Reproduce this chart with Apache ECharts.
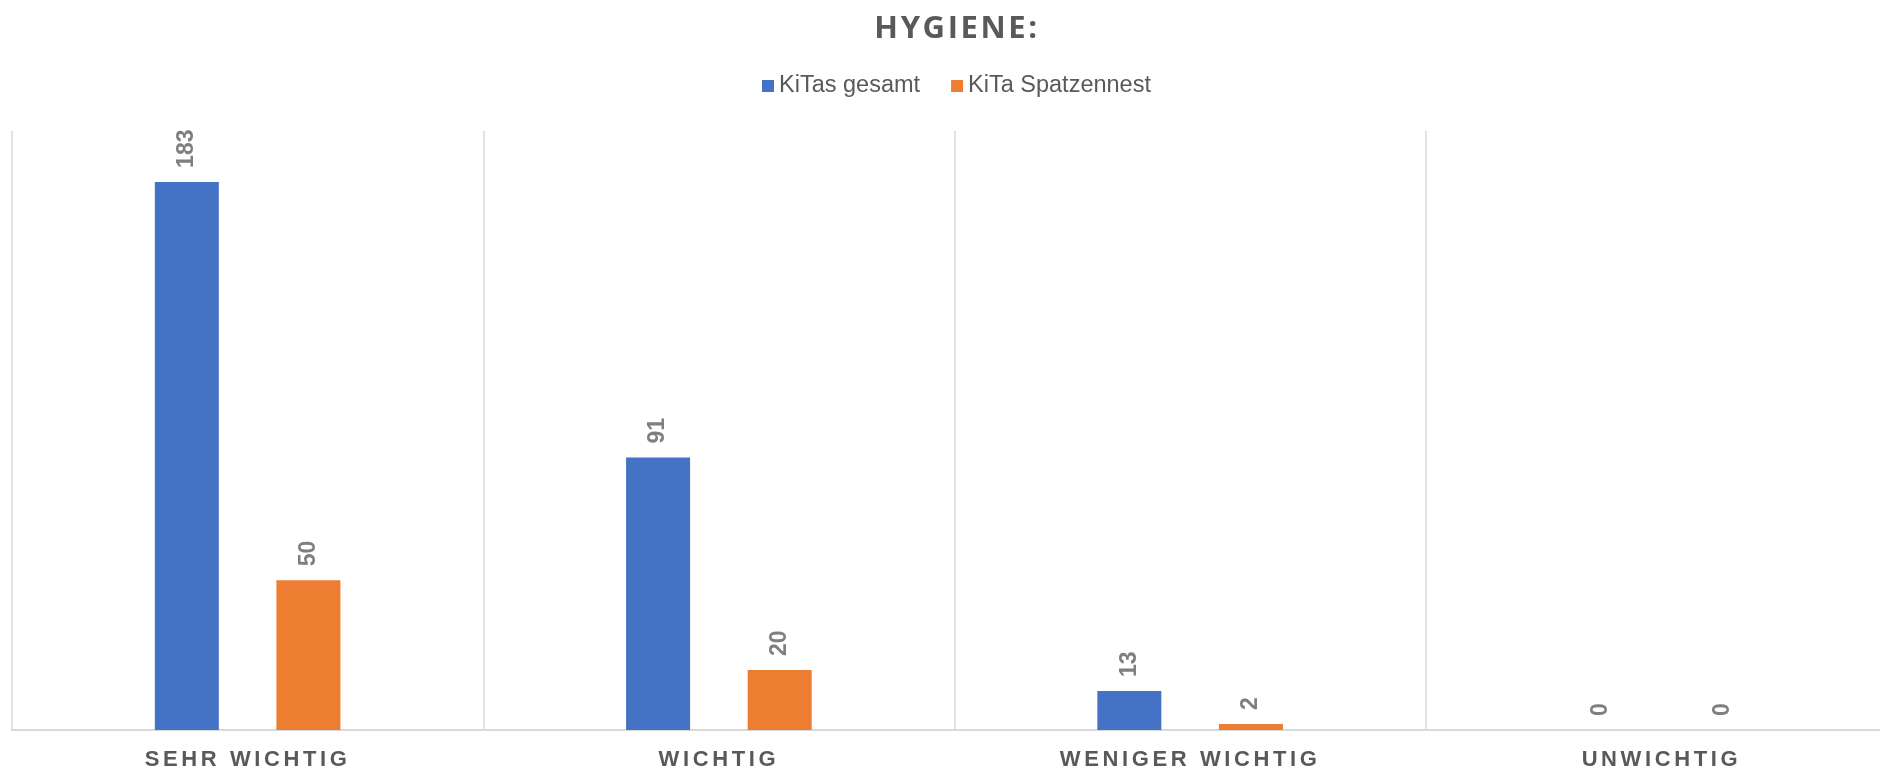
<!DOCTYPE html>
<html>
<head>
<meta charset="utf-8">
<script src="https://cdn.jsdelivr.net/npm/echarts@6/dist/echarts.min.js"></script>
<style>
html,body{margin:0;padding:0;background:#fff;}
#chart{width:1880px;height:769px;}
</style>
</head>
<body>
<div id="chart"></div>
<script>
const titleText = 'HYGIENE:';
const categories = ['SEHR WICHTIG', 'WICHTIG', 'WENIGER WICHTIG', 'UNWICHTIG'];
const seriesNames = ['KiTas gesamt', 'KiTa Spatzennest'];
const kitasGesamt = [183, 91, 13, 0];
const kitaSpatzennest = [50, 20, 2, 0];

// letter spacing for title and category labels (canvas 2D letterSpacing)
const spacingMap = {};
spacingMap[titleText] = '2.6px';
categories.forEach(c => spacingMap[c] = '3.6px');
const origFill = CanvasRenderingContext2D.prototype.fillText;
CanvasRenderingContext2D.prototype.fillText = function (t, x, y, w) {
  const ls = spacingMap[t] || '0px';
  if ('letterSpacing' in this) this.letterSpacing = ls;
  if (w === undefined) origFill.call(this, t, x, y); else origFill.call(this, t, x, y, w);
  if ('letterSpacing' in this) this.letterSpacing = '0px';
};

const chart = echarts.init(document.getElementById('chart'), null, {renderer: 'canvas'});
const labelStyle = {
  show: true,
  position: 'top',
  distance: 14,
  rotate: 90,
  align: 'left',
  verticalAlign: 'middle',
  color: '#7f7f7f',
  fontFamily: 'Liberation Sans, Arial, sans-serif',
  fontWeight: 'bold',
  fontSize: 23
};
chart.setOption({
  animation: false,
  title: {
    text: titleText,
    left: 952,
    textAlign: 'center',
    top: 9,
    textStyle: {
      fontFamily: 'Open Sans, sans-serif',
      fontWeight: 'bold',
      fontSize: 31,
      color: '#595959'
    }
  },
  legend: {
    data: seriesNames,
    left: 762,
    top: 74,
    padding: 0,
    itemWidth: 12,
    itemHeight: 12,
    itemGap: 31,
    icon: 'rect',
    textStyle: {
      fontFamily: 'Liberation Sans, Arial, sans-serif',
      fontSize: 23.5,
      color: '#595959'
    }
  },
  grid: {left: 12, top: 131, width: 1885, height: 599, containLabel: false, outerBoundsMode: 'none'},
  xAxis: {
    type: 'category',
    data: categories,
    axisLine: {show: true, lineStyle: {color: '#d9d9d9', width: 2}},
    axisTick: {show: false},
    splitLine: {show: true, lineStyle: {color: '#d9d9d9', width: 1.5}},
    axisLabel: {
      margin: 19,
      color: '#595959',
      fontFamily: 'Liberation Sans, Arial, sans-serif',
      fontWeight: 'bold',
      fontSize: 22
    }
  },
  yAxis: {
    type: 'value',
    min: 0,
    max: 200,
    show: false,
    splitLine: {show: false}
  },
  series: [
    {
      name: seriesNames[0],
      type: 'bar',
      data: kitasGesamt,
      barWidth: 64,
      barGap: '90%',
      itemStyle: {color: '#4472C4'},
      label: labelStyle
    },
    {
      name: seriesNames[1],
      type: 'bar',
      data: kitaSpatzennest,
      barWidth: 64,
      itemStyle: {color: '#ED7D31'},
      label: labelStyle
    }
  ]
});
</script>
</body>
</html>
